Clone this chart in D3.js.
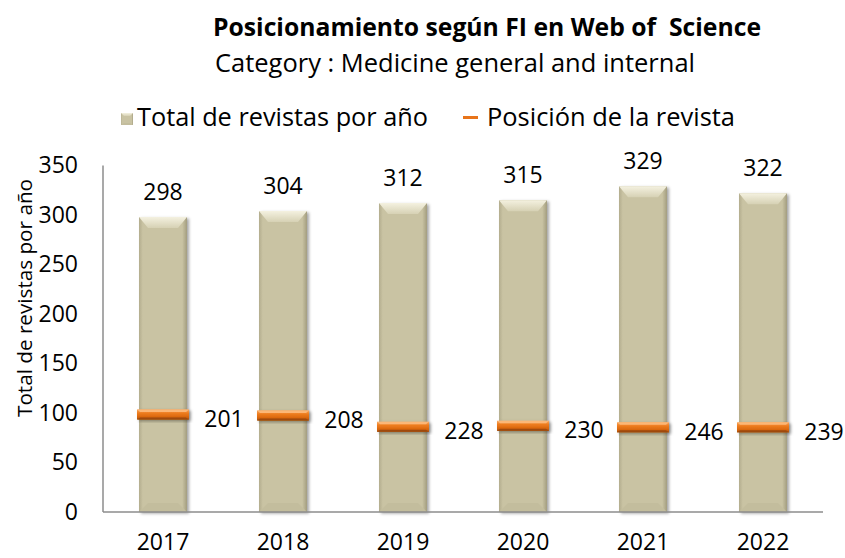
<!DOCTYPE html>
<html>
<head>
<meta charset="utf-8">
<script src="https://cdn.jsdelivr.net/npm/d3@7"></script>
<style>
  body { margin: 0; background: #fff; }
  svg { display: block; font-family: "Open Sans", sans-serif; }
</style>
</head>
<body>
<div id="chart"></div>
<script>
// Data
const years = ["2017", "2018", "2019", "2020", "2021", "2022"];
const totalJournals = [298, 304, 312, 315, 329, 322];
const journalPosition = [201, 208, 228, 230, 246, 239];
// level on the left axis where each position marker is drawn
const markerLevel = [98.5, 97.5, 86, 87, 85.5, 85.5];
const yTicks = [0, 50, 100, 150, 200, 250, 300, 350];

const width = 845, height = 558;
const plot = { left: 103, right: 823, top: 165.5, bottom: 512 };

const svg = d3.select("#chart").append("svg")
    .attr("width", width)
    .attr("height", height);

const defs = svg.append("defs");

// Gradients for the beveled look
const barFace = defs.append("linearGradient").attr("id", "barFace");
barFace.append("stop").attr("offset", "0%").attr("stop-color", "#b3ad8e");
barFace.append("stop").attr("offset", "8%").attr("stop-color", "#c9c3a3");
barFace.append("stop").attr("offset", "90%").attr("stop-color", "#c9c3a3");
barFace.append("stop").attr("offset", "100%").attr("stop-color", "#a39d7f");

const barTop = defs.append("linearGradient").attr("id", "barTop")
    .attr("x1", 0).attr("y1", 0).attr("x2", 0).attr("y2", 1);
barTop.append("stop").attr("offset", "0%").attr("stop-color", "#f4f1e0");
barTop.append("stop").attr("offset", "100%").attr("stop-color", "#d6d1b4");

const markFace = defs.append("linearGradient").attr("id", "markFace")
    .attr("x1", 0).attr("y1", 0).attr("x2", 0).attr("y2", 1);
markFace.append("stop").attr("offset", "0%").attr("stop-color", "#f9a55c");
markFace.append("stop").attr("offset", "35%").attr("stop-color", "#ee7d20");
markFace.append("stop").attr("offset", "75%").attr("stop-color", "#d9660c");
markFace.append("stop").attr("offset", "100%").attr("stop-color", "#a9510a");

const shadow = defs.append("filter").attr("id", "shadow")
    .attr("x", "-20%").attr("y", "-20%").attr("width", "150%").attr("height", "150%");
shadow.append("feDropShadow")
    .attr("dx", 2).attr("dy", 1.5)
    .attr("stdDeviation", 1.6)
    .attr("flood-color", "#000")
    .attr("flood-opacity", 0.35);

// Scales
const x = d3.scaleBand()
    .domain(years)
    .range([plot.left, plot.right])
    .paddingInner(0.6)
    .paddingOuter(0.3);

const y = d3.scaleLinear()
    .domain([0, 350])
    .range([plot.bottom, plot.top]);

// Title
svg.append("text")
    .attr("x", 213).attr("y", 36)
    .attr("font-size", 25).attr("font-weight", "bold")
    .style("white-space", "pre")
    .attr("textLength", 548).attr("lengthAdjust", "spacingAndGlyphs")
    .text("Posicionamiento según FI en Web of  Science");

svg.append("text")
    .attr("x", 215).attr("y", 72)
    .attr("font-size", 25)
    .attr("textLength", 480).attr("lengthAdjust", "spacingAndGlyphs")
    .text("Category : Medicine general and internal");

// Bevel helper
function bevelBox(g, x0, y0, w, h, opts) {
    const x1 = x0 + w, y1 = y0 + h;
    const grp = g.append("g").attr("filter", opts.shadow ? "url(#shadow)" : null);
    grp.append("rect")
        .attr("x", x0).attr("y", y0)
        .attr("width", w).attr("height", h)
        .attr("fill", opts.face);
    const t = Math.min(opts.top, h / 2), b = Math.min(opts.bottom, h / 2);
    grp.append("polygon")
        .attr("points", [[x0, y0], [x1, y0], [x1 - opts.inset, y0 + t], [x0 + opts.inset, y0 + t]].join(" "))
        .attr("fill", opts.topFill);
    if (b > 0) {
        grp.append("polygon")
            .attr("points", [[x0, y1], [x1, y1], [x1 - opts.inset, y1 - b], [x0 + opts.inset, y1 - b]].join(" "))
            .attr("fill", opts.bottomFill);
    }
}

// Axes
const chart = svg.append("g");

const yAxis = chart.append("g")
    .attr("transform", `translate(${plot.left},0)`)
    .call(d3.axisLeft(y).tickValues(yTicks).tickSize(0).tickPadding(25));
yAxis.select(".domain").remove();
yAxis.selectAll("text")
    .attr("font-family", "Open Sans")
    .attr("font-size", 23)
    .attr("fill", "#000");

const xAxis = chart.append("g")
    .attr("transform", `translate(0,${plot.bottom})`)
    .call(d3.axisBottom(x).tickSize(0).tickPadding(22));
xAxis.select(".domain").remove();
xAxis.selectAll("text")
    .attr("font-family", "Open Sans")
    .attr("font-size", 23)
    .attr("fill", "#000");

// Bars
years.forEach((yr, i) => {
    const x0 = x(yr);
    const y0 = y(totalJournals[i]);
    bevelBox(chart, x0, y0, x.bandwidth(), plot.bottom - y0, {
        face: "url(#barFace)",
        topFill: "url(#barTop)",
        bottomFill: "#c3bd9d",
        top: 11, bottom: 9, inset: 9,
        shadow: true
    });
});

// axis lines
chart.append("line")
    .attr("x1", plot.left).attr("x2", plot.left)
    .attr("y1", plot.top).attr("y2", plot.bottom)
    .attr("stroke", "#8c8c8c").attr("stroke-width", 1.5);
chart.append("line")
    .attr("x1", plot.left).attr("x2", plot.right)
    .attr("y1", plot.bottom).attr("y2", plot.bottom)
    .attr("stroke", "#8c8c8c").attr("stroke-width", 1.5);

// Bar value labels
chart.selectAll(".total-label")
    .data(totalJournals)
    .join("text")
    .attr("class", "total-label")
    .attr("x", (d, i) => x(years[i]) + x.bandwidth() / 2)
    .attr("y", d => y(d) - 17)
    .attr("text-anchor", "middle")
    .attr("font-size", 23)
    .text(d => d);

// Position markers
const markW = 52, markH = 10;
years.forEach((yr, i) => {
    const cx = x(yr) + x.bandwidth() / 2;
    const cy = y(markerLevel[i]);
    bevelBox(chart, cx - markW / 2, cy - markH / 2, markW, markH, {
        face: "url(#markFace)",
        topFill: "#fbb777",
        bottomFill: "#9e4a08",
        top: 2.5, bottom: 2, inset: 3,
        shadow: true
    });
});

chart.selectAll(".pos-label")
    .data(journalPosition)
    .join("text")
    .attr("class", "pos-label")
    .attr("x", (d, i) => x(years[i]) + x.bandwidth() / 2 + 61)
    .attr("y", (d, i) => y(markerLevel[i]) + 4)
    .attr("dy", "0.36em")
    .attr("text-anchor", "middle")
    .attr("font-size", 23)
    .text(d => d);

// Y axis title
svg.append("text")
    .attr("transform", "translate(32,298) rotate(-90)")
    .attr("text-anchor", "middle")
    .attr("font-size", 20)
    .attr("textLength", 238).attr("lengthAdjust", "spacingAndGlyphs")
    .text("Total de revistas por año");

// Legend
const legend = svg.append("g");
bevelBox(legend, 121, 113, 12, 12, {
    face: "url(#barFace)",
    topFill: "url(#barTop)",
    bottomFill: "#c3bd9d",
    top: 3, bottom: 2, inset: 3,
    shadow: false
});
legend.append("text")
    .attr("x", 137).attr("y", 126)
    .attr("font-size", 25)
    .attr("textLength", 291).attr("lengthAdjust", "spacingAndGlyphs")
    .text("Total de revistas por año");

legend.append("rect")
    .attr("x", 463).attr("y", 116)
    .attr("width", 15).attr("height", 3)
    .attr("fill", "#e8741a");
legend.append("text")
    .attr("x", 487).attr("y", 126)
    .attr("font-size", 25)
    .attr("textLength", 248).attr("lengthAdjust", "spacingAndGlyphs")
    .text("Posición de la revista");
</script>
</body>
</html>
